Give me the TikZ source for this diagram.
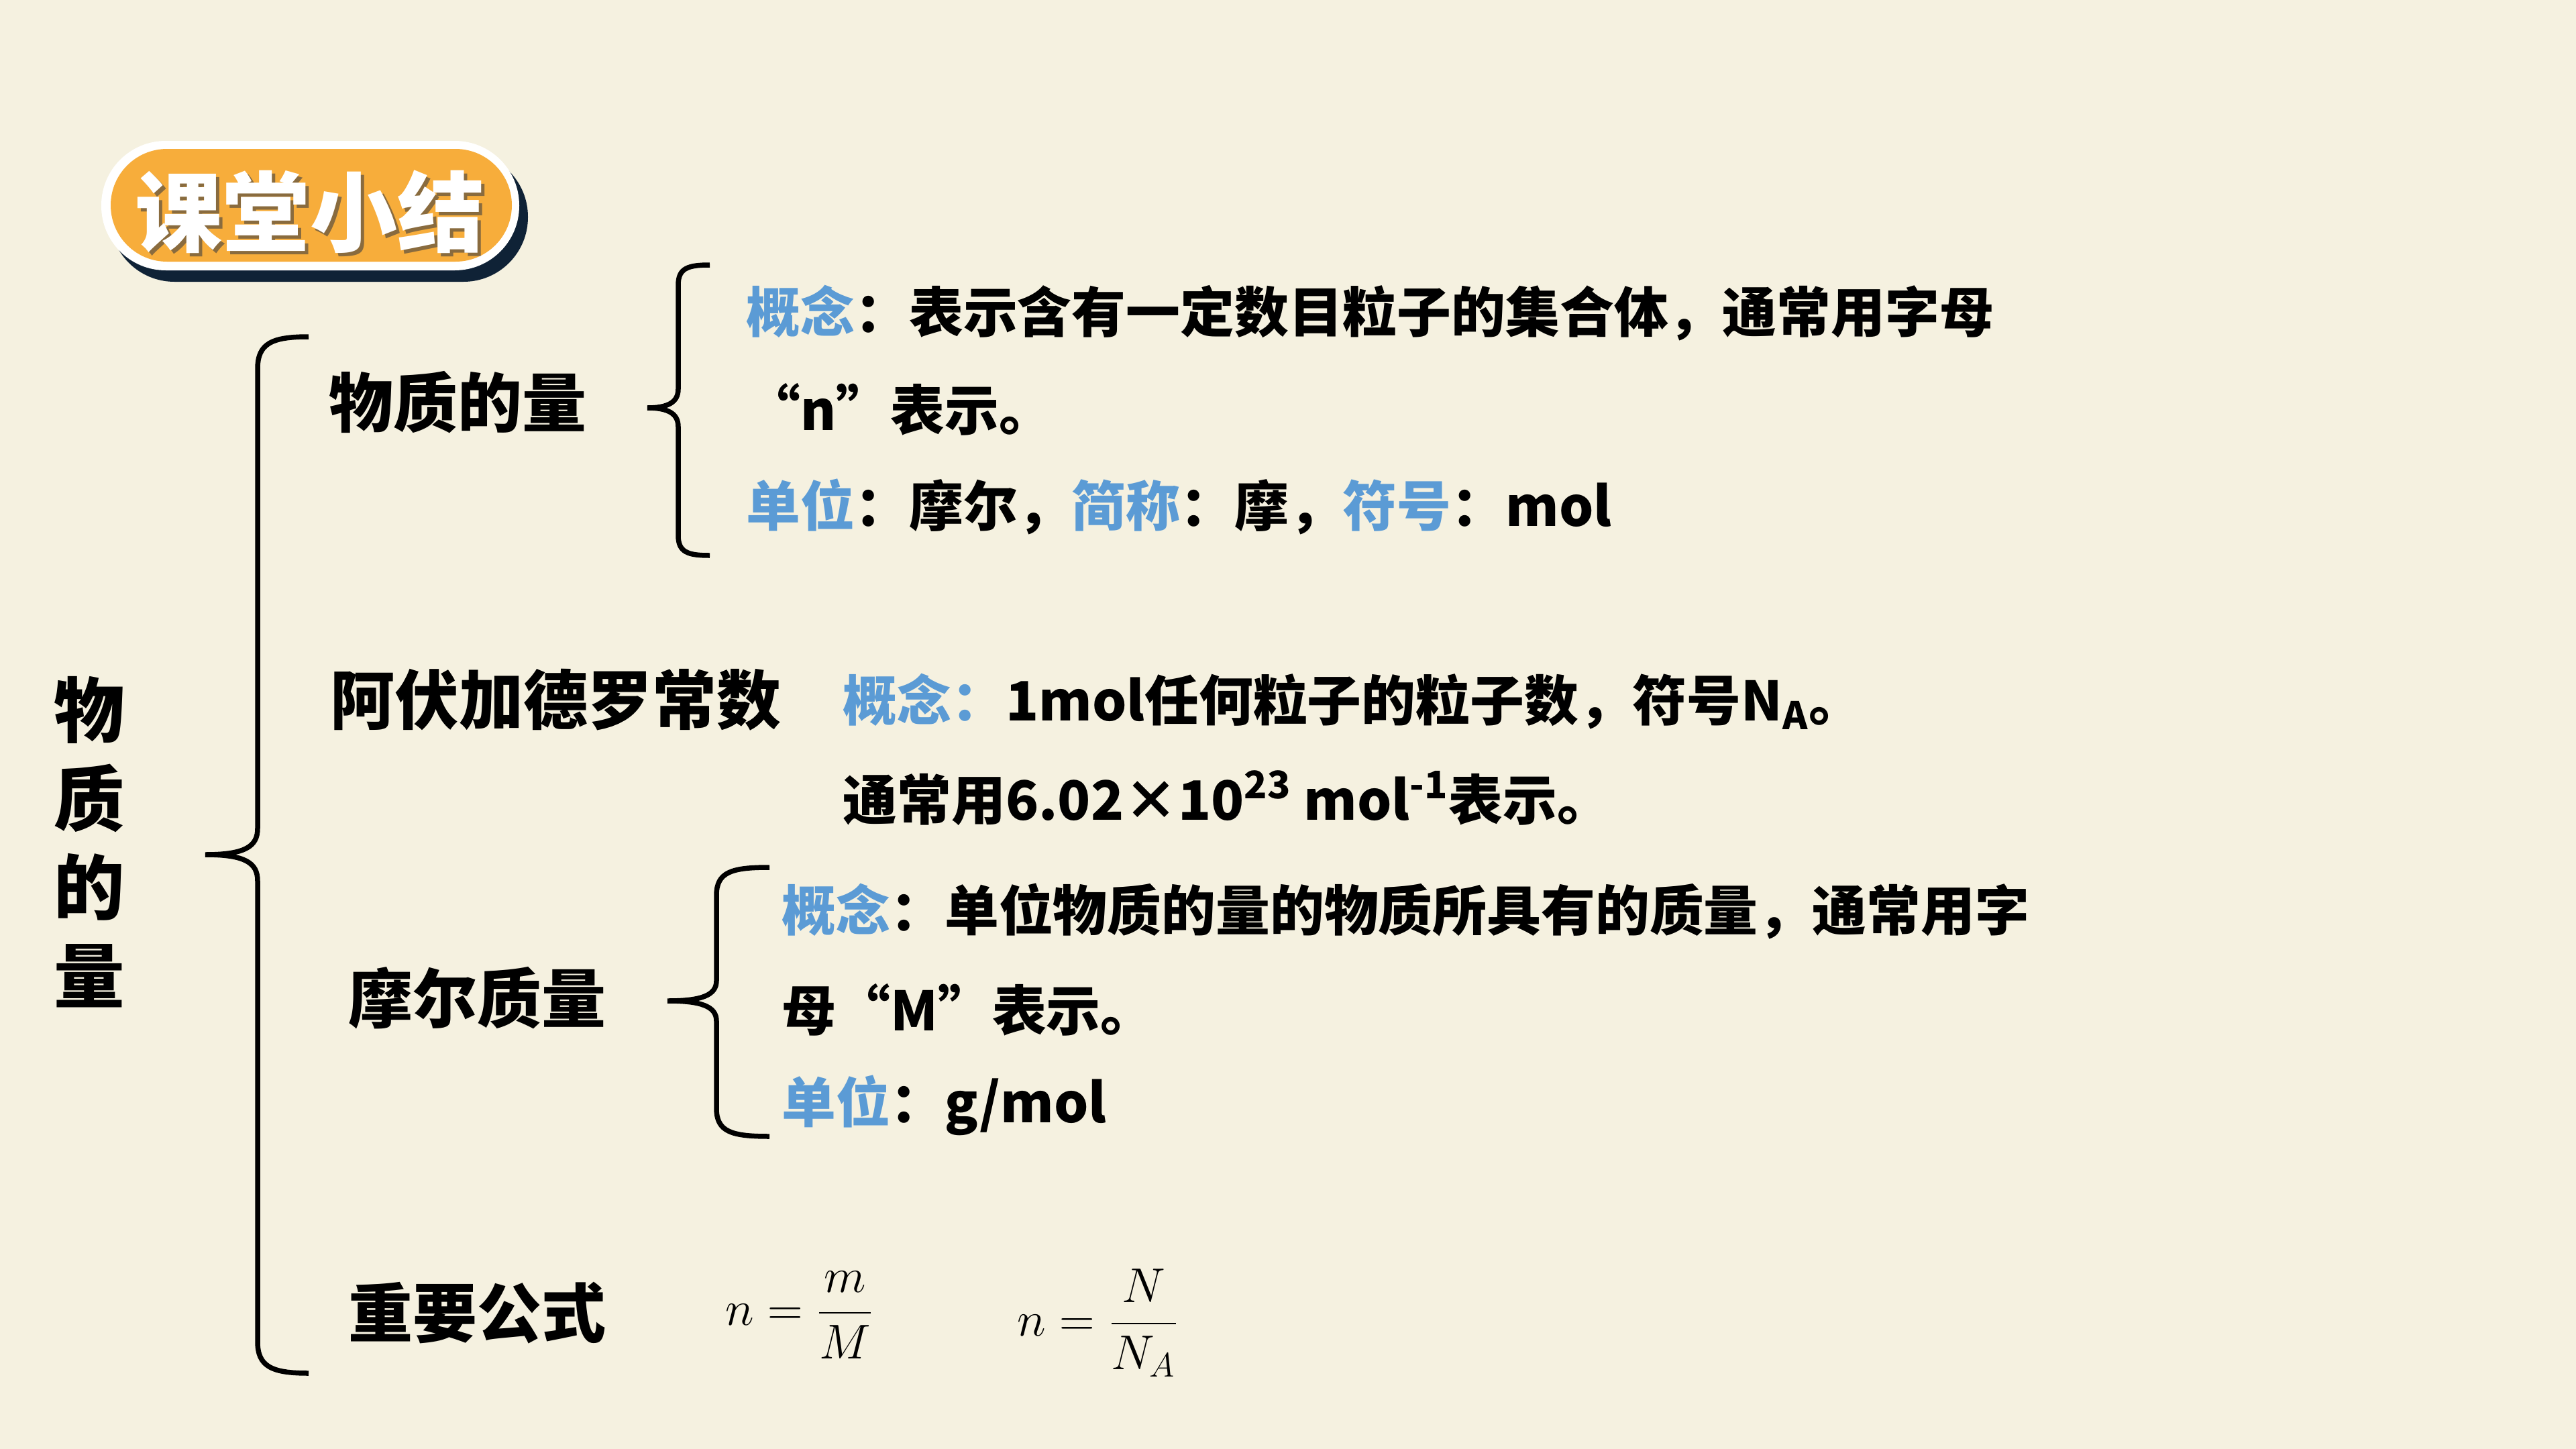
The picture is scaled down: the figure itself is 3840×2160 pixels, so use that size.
\documentclass[tikz,border=0pt]{standalone}
\usepackage{fontspec}
\setmainfont{Noto Sans CJK SC}
\definecolor{bg}{HTML}{F5F1E0}
\definecolor{kblue}{HTML}{5B9BD5}
\definecolor{badge}{HTML}{F7AD3B}
\definecolor{navy}{HTML}{0F2236}
\newcommand{\kb}[1]{\textcolor{kblue}{#1}}
\begin{document}
\begin{tikzpicture}[x=0.1mm,y=-0.1mm,
  itemlbl/.style={font=\fontsize{27.3}{30}\selectfont\bfseries, anchor=west, inner sep=0pt},
  body/.style={font=\fontsize{23}{26}\selectfont\bfseries, anchor=west, inner sep=0pt},
  formula/.style={font=\fontsize{21}{24}\selectfont, inner sep=0pt},
  brc/.style={line width=0.75mm, line cap=butt, draw=black}]
\fill[bg] (0,0) rectangle (3840,2160);
\useasboundingbox (0,0) rectangle (3840,2160);
% badge
\fill[navy, rounded corners=9.6mm] (164,227) rectangle (787,420);
\fill[white, rounded corners=9.6mm] (151,210) rectangle (774,403);
\fill[badge, rounded corners=8.4mm] (165,222) rectangle (763,390);
\node[font=\fontsize{37}{40}\selectfont\bfseries, text=black!75, opacity=0.6, inner sep=0pt] at (467,321) {课堂小结};
\node[font=\fontsize{37}{40}\selectfont\bfseries, text=white, inner sep=0pt] (title) at (462,316) {课堂小结};
% vertical title
\node[font=\fontsize{30}{37.6}\selectfont\bfseries, align=center, inner sep=0pt] (vt) at (133,1255) {物\\质\\的\\量};
% big brace
\coordinate (bt) at (460,502);
\coordinate (bb) at (460,2047);
\coordinate (btip) at (306,1274);
\draw[brc] (bt) .. controls (405,502) and (384,512) .. (384,550)
  -- (384,1235) .. controls (384,1262) and (365,1274) .. (btip)
  .. controls (365,1274) and (384,1286) .. (384,1313)
  -- (384,2000) .. controls (384,2037) and (405,2047) .. (bb);
% item 1
\node[itemlbl] (i1) at (490,600) {物质的量};
\coordinate (t1) at (1058,395);
\coordinate (b1) at (1058,828);
\coordinate (tip1) at (965,608);
\draw[brc] (t1) .. controls (1025,395) and (1011,400) .. (1011,425)
  -- (1011,580) .. controls (1011,600) and (995,608) .. (tip1)
  .. controls (995,608) and (1011,616) .. (1011,636)
  -- (1011,798) .. controls (1011,823) and (1025,828) .. (b1);
\node[body] (l1a) at (1112,467) {\kb{概念}：表示含有一定数目粒子的集合体，通常用字母};
\node[body] (l1b) at (1112,610) {“n”表示。};
\node[body] (l1c) at (1112,755) {\kb{单位}：摩尔，\kb{简称}：摩，\kb{符号}：mol};
% item 2
\node[itemlbl] (i2) at (492,1043) {阿伏加德罗常数};
\node[body] (l2a) at (1256,1046) {\kb{概念：}1mol任何粒子的粒子数，符号N\textsubscript{A}。};
\node[body] (l2b) at (1256,1190) {通常用6.02×10\textsuperscript{23} mol\textsuperscript{-1}表示。};
% item 3
\node[itemlbl] (i3) at (519,1488) {摩尔质量};
\coordinate (t3) at (1147,1293);
\coordinate (b3) at (1147,1694);
\coordinate (tip3) at (995,1492);
\draw[brc] (t3) .. controls (1090,1293) and (1068,1300) .. (1068,1335)
  -- (1068,1462) .. controls (1068,1484) and (1045,1492) .. (tip3)
  .. controls (1045,1492) and (1068,1500) .. (1068,1522)
  -- (1068,1652) .. controls (1068,1687) and (1090,1694) .. (b3);
\node[body] (l3a) at (1165,1358) {\kb{概念}：单位物质的量的物质所具有的质量，通常用字};
\node[body] (l3b) at (1165,1505) {母“M”表示。};
\node[body] (l3c) at (1165,1648) {\kb{单位}：g/mol};
% item 4
\node[itemlbl] (i4) at (519,1957) {重要公式};
\node[formula] (f1) at (1192,1960) {$n=\displaystyle\frac{m}{M}$};
\node[formula] (f2) at (1637,1972) {$n=\displaystyle\frac{N}{N_A}$};
\end{tikzpicture}
\end{document}
